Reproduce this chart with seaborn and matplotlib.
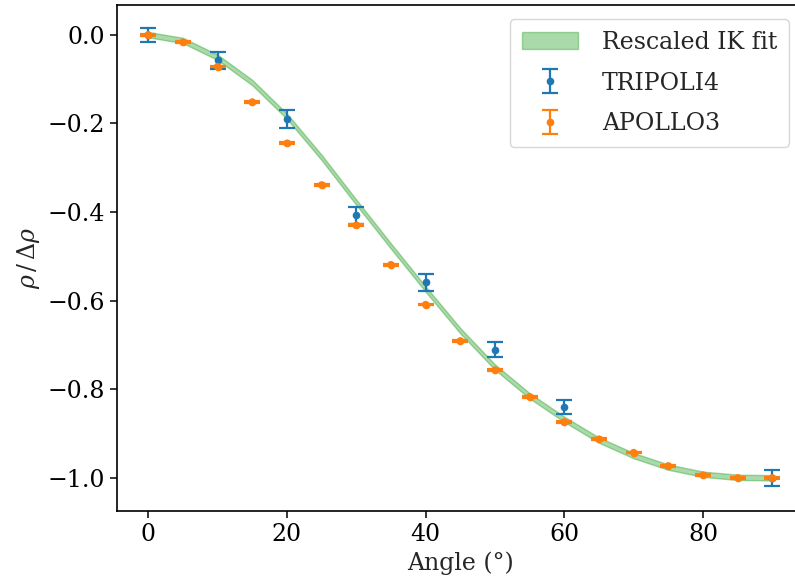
import numpy as np
import matplotlib
matplotlib.use("Agg")
import matplotlib.pyplot as plt
import seaborn as sns

# Rescaled IK fit (every 5 degrees)
fit_angle = [0, 5, 10, 15, 20, 25, 30, 35, 40, 45, 50, 55, 60, 65, 70, 75, 80, 85, 90]
fit_rho = [0.0, -0.013, -0.051, -0.108, -0.184, -0.277, -0.378, -0.477, -0.574, -0.668,
           -0.750, -0.815, -0.868, -0.915, -0.950, -0.976, -0.992, -0.999, -1.0]

# TRIPOLI4 points
t4_angle = [0, 10, 20, 30, 40, 50, 60, 90]
t4_rho = [0.0, -0.058, -0.190, -0.408, -0.559, -0.711, -0.841, -1.0]
t4_err = [0.016, 0.020, 0.020, 0.019, 0.019, 0.017, 0.016, 0.018]

# APOLLO3 points
ap3_angle = [0, 5, 10, 15, 20, 25, 30, 35, 40, 45, 50, 55, 60, 65, 70, 75, 80, 85, 90]
ap3_rho = [0.0, -0.017, -0.072, -0.152, -0.245, -0.339, -0.430, -0.519, -0.609, -0.691,
           -0.757, -0.817, -0.874, -0.913, -0.943, -0.973, -0.994, -1.0, -1.0]
ap3_err = [0.002] * len(ap3_angle)

band = 0.006

sns.set_style("ticks")
plt.rcParams['font.family'] = ['DejaVu Serif']
plt.rcParams['mathtext.fontset'] = 'dejavuserif'
plt.rcParams['font.size'] = 17

fig = plt.figure(figsize=(7.95, 5.86), dpi=100)
# the right spine sits just outside the picture, like in the reference
ax = fig.add_axes([117 / 795, 1 - 511 / 586, (803.5 - 117) / 795, (511 - 5) / 586])

fx = np.array(fit_angle)
fy = np.array(fit_rho)
ax.fill_between(fx, fy - band, fy + band, color='C2', alpha=0.4, label='Rescaled IK fit')

ax.errorbar(t4_angle, t4_rho, yerr=t4_err, fmt='o', color='C0', ms=4.5,
            elinewidth=1.6, capsize=6, capthick=1.6, label='TRIPOLI4')
ax.errorbar(ap3_angle, ap3_rho, yerr=ap3_err, fmt='o', color='C1', ms=4.5,
            elinewidth=1.6, capsize=6, capthick=1.6, label='APOLLO3')
sns.scatterplot(x=ap3_angle, y=ap3_rho, color='C1', s=28, edgecolor='none', ax=ax, zorder=4)

ax.set_xlim(-4.5, 94.5)
ax.set_ylim(-1.075, 0.067)
ax.set_xticks([0, 20, 40, 60, 80])
ax.set_yticks([0.0, -0.2, -0.4, -0.6, -0.8, -1.0])
ax.set_xlabel('Angle (°)')
ax.set_ylabel(r'$\rho\,/\,\Delta\rho$')
for s in ax.spines.values():
    s.set_linewidth(1.2)
    s.set_color('black')
ax.tick_params(direction='out', length=5, width=1.1, colors='black')

ax.legend(loc='upper right', bbox_to_anchor=(789 / 795, 1 - 19 / 586),
          bbox_transform=fig.transFigure, borderaxespad=0, frameon=True,
          fancybox=True, framealpha=0.8, edgecolor='#cccccc',
          handlelength=2.4, handletextpad=1.0, labelspacing=0.75, borderpad=0.5)

fig.savefig('out.png', dpi=100)
